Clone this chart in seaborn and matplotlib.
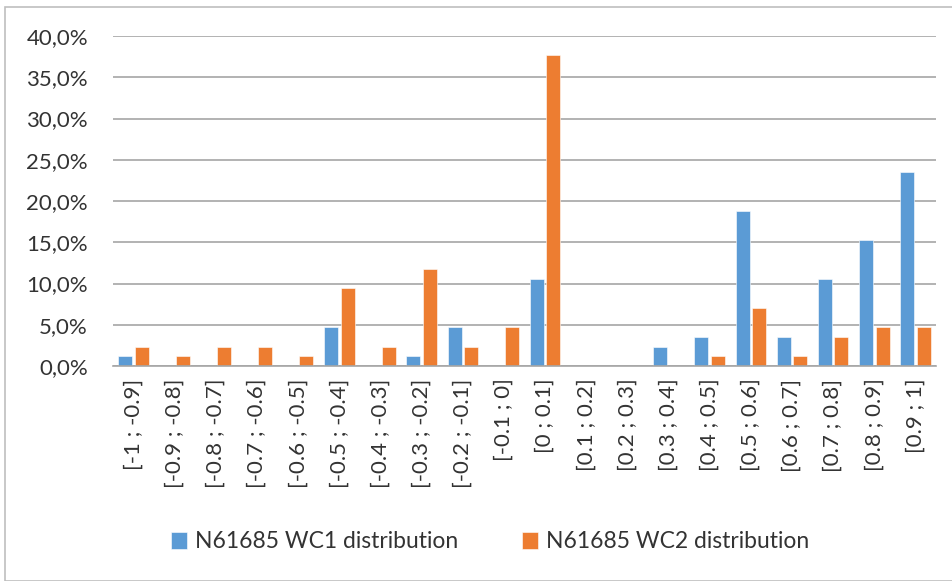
import matplotlib
matplotlib.use("Agg")
import matplotlib.pyplot as plt
import seaborn as sns
import pandas as pd
from matplotlib.ticker import FuncFormatter
from matplotlib.patches import Rectangle

categories = ["[-1 ; -0.9]", "[-0.9 ; -0.8]", "[-0.8 ; -0.7]", "[-0.7 ; -0.6]",
              "[-0.6 ; -0.5]", "[-0.5 ; -0.4]", "[-0.4 ; -0.3]", "[-0.3 ; -0.2]",
              "[-0.2 ; -0.1]", "[-0.1 ; 0]", "[0 ; 0.1]", "[0.1 ; 0.2]",
              "[0.2 ; 0.3]", "[0.3 ; 0.4]", "[0.4 ; 0.5]", "[0.5 ; 0.6]",
              "[0.6 ; 0.7]", "[0.7 ; 0.8]", "[0.8 ; 0.9]", "[0.9 ; 1]"]
wc1 = [1.18, 0, 0, 0, 0, 4.71, 0, 1.18, 4.71, 0, 10.59, 0,
       0, 2.35, 3.53, 18.82, 3.53, 10.59, 15.29, 23.53]
wc2 = [2.35, 1.18, 2.35, 2.35, 1.18, 9.41, 2.35, 11.76, 2.35, 4.71, 37.65, 0,
       0, 0, 1.18, 7.06, 1.18, 3.53, 4.71, 4.71]
series_names = ["N61685 WC1 distribution", "N61685 WC2 distribution"]
colors = ["#5B9BD5", "#ED7D31"]

df = pd.DataFrame({
    "bin": categories * 2,
    "value": wc1 + wc2,
    "series": [series_names[0]] * len(categories) + [series_names[1]] * len(categories),
})

sns.set_theme(style="white")
plt.rcParams['font.family'] = ['Lato', 'DejaVu Sans']

text_color = "#333333"

fig = plt.figure(figsize=(9.53, 5.81), dpi=100)
ax = fig.add_axes([113 / 953, 1 - 366 / 581, (936 - 113) / 953, (366 - 36) / 581])

sns.barplot(data=df, x="bin", y="value", hue="series", palette=colors,
            width=0.8, gap=0.15, ax=ax, legend=True, saturation=1,
            edgecolor="white", linewidth=0.4)

ax.set_ylim(0, 40)
ax.set_xlim(-0.5, len(categories) - 0.5)
ax.set_yticks(range(0, 41, 5))
ax.yaxis.set_major_formatter(FuncFormatter(lambda v, p: f"{v:.1f}%".replace(".", ",")))
ax.grid(axis="y", color="#A6A6A6", linewidth=1.2)
ax.set_axisbelow(True)
for s in ["top", "right", "left"]:
    ax.spines[s].set_visible(False)
ax.spines["bottom"].set_color("#A6A6A6")
ax.spines["bottom"].set_linewidth(1.2)
ax.set_xlabel("")
ax.set_ylabel("")
ax.tick_params(axis="y", length=0, pad=18, labelsize=16, labelcolor=text_color)
ax.tick_params(axis="x", length=0, pad=9, labelsize=16, labelcolor=text_color, rotation=90)

handles, labels = ax.get_legend_handles_labels()
ax.get_legend().remove()
fig.legend(handles, labels, loc="center", bbox_to_anchor=(490 / 953, 1 - 542 / 581),
           ncol=2, frameon=False, fontsize=16.5, handlelength=0.7, handleheight=0.7,
           handletextpad=0.35, columnspacing=2.8, labelcolor=text_color)

fig.patches.append(Rectangle((5 / 953, 0.0), 1.0, 1 - 7 / 581, transform=fig.transFigure,
                             fill=False, edgecolor="#BFBFBF", linewidth=1.2))

fig.savefig("out.png", dpi=100)
